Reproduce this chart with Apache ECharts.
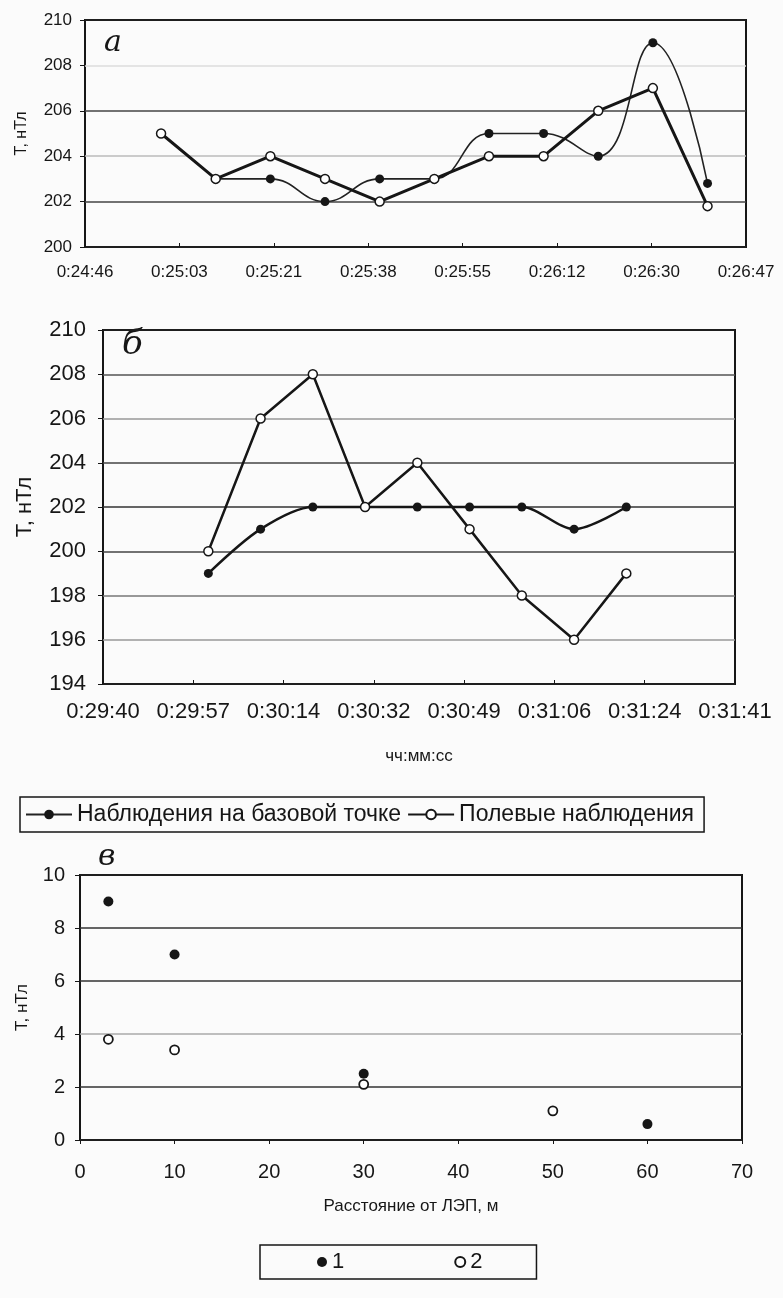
<!DOCTYPE html>
<html lang="ru">
<head>
<meta charset="utf-8">
<title>Т, нТл</title>
<script src="https://cdn.jsdelivr.net/npm/echarts@6/dist/echarts.min.js"></script>
<style>
    html, body { margin: 0; padding: 0; background: #fbfbfb; }
    #main { width: 783px; height: 1298px; }
</style>
</head>
<body>
<div id="main"></div>
<script>
    // а: время наблюдений (чч:мм:сс) и значения, нТл
    var timesA = ['0:25:00', '0:25:10', '0:25:20', '0:25:30', '0:25:40', '0:25:50',
                  '0:26:00', '0:26:10', '0:26:20', '0:26:30', '0:26:40'];
    var baseA = [null, 203, 203, 202, 203, 203, 205, 205, 204, 209, 202.8];
    var fieldA = [205, 203, 204, 203, 202, 203, 204, 204, 206, 207, 201.8];

    // б
    var timesB = ['0:30:00', '0:30:10', '0:30:20', '0:30:30', '0:30:40',
                  '0:30:50', '0:31:00', '0:31:10', '0:31:20'];
    var baseB = [199, 201, 202, 202, 202, 202, 202, 201, 202];
    var fieldB = [200, 206, 208, 202, 204, 201, 198, 196, 199];

    // в: расстояние от ЛЭП, м
    var distBase = [3, 10, 30, 60];
    var valBase = [9, 7, 2.5, 0.6];
    var distField = [3, 10, 30, 50];
    var valField = [3.8, 3.4, 2.1, 1.1];

    var seriesNames = ['Наблюдения на базовой точке', 'Полевые наблюдения'];
    var scatterNames = ['1', '2'];

    var FONT = '"Liberation Sans", Arial, sans-serif';
    var INK = '#161616';

    // ось времени в единицах 1e-4 суток (8.64 с), как в Excel
    function toUnit(t) {
        var p = t.split(':');
        return (+p[0] * 3600 + +p[1] * 60 + +p[2]) / 8.64;
    }
    function pad(n) { return n < 10 ? '0' + n : '' + n; }
    function timeLabel(v) {
        var s = Math.round(v * 8.64);
        return Math.floor(s / 3600) + ':' + pad(Math.floor(s % 3600 / 60)) + ':' + pad(s % 60);
    }
    function pairs(xs, ys, conv) {
        return xs.map(function (x, i) { return [conv ? conv(x) : x, ys[i]]; })
                 .filter(function (p) { return p[1] != null; });
    }

    function gridBox(left, top, width, height) {
        return {left: left, top: top, width: width, height: height, show: true,
                borderColor: INK, borderWidth: 2, backgroundColor: 'transparent'};
    }

    var dom = document.getElementById('main');
    var myChart = echarts.init(dom, null, {renderer: 'canvas'});

    var option = {
        backgroundColor: '#fbfbfb',
        animation: false,
        grid: [
            gridBox(85, 20, 661, 227),
            gridBox(103, 330, 632, 354),
            gridBox(80, 875, 662, 265)
        ],
        xAxis: [
            {
                type: 'value', gridIndex: 0, min: 172, max: 186, interval: 2,
                axisLine: {show: false},
                axisTick: {show: true, inside: true, length: 4, lineStyle: {color: INK}},
                splitLine: {show: false},
                axisLabel: {formatter: timeLabel, margin: 17, fontFamily: FONT, fontSize: 17, color: INK}
            },
            {
                type: 'value', gridIndex: 1, min: 206, max: 220, interval: 2,
                axisLine: {show: false},
                axisTick: {show: true, inside: true, length: 4, lineStyle: {color: INK}},
                splitLine: {show: false},
                axisLabel: {formatter: timeLabel, margin: 17, fontFamily: FONT, fontSize: 22, color: INK},
                name: 'чч:мм:сс', nameLocation: 'middle', nameGap: 64,
                nameTextStyle: {fontFamily: FONT, fontSize: 17, color: INK}
            },
            {
                type: 'value', gridIndex: 2, min: 0, max: 70, interval: 10,
                axisLine: {show: false},
                axisTick: {show: true, length: 4, lineStyle: {color: INK}},
                splitLine: {show: false},
                axisLabel: {margin: 22, fontFamily: FONT, fontSize: 20, color: INK},
                name: 'Расстояние от ЛЭП, м', nameLocation: 'middle', nameGap: 58,
                nameTextStyle: {fontFamily: FONT, fontSize: 17, color: INK}
            }
        ],
        yAxis: [
            {
                type: 'value', gridIndex: 0, min: 200, max: 210, interval: 2,
                axisLine: {show: false},
                axisTick: {show: true, length: 5, lineStyle: {color: INK}},
                splitLine: {show: true, lineStyle: {width: 1.5,
                    color: ['#222', '#444', '#bbb', '#444', '#ddd', '#222']}},
                axisLabel: {margin: 13, fontFamily: FONT, fontSize: 17, color: INK},
                name: 'Т, нТл', nameLocation: 'middle', nameRotate: 90, nameGap: 55,
                nameTextStyle: {fontFamily: FONT, fontSize: 16, color: INK}
            },
            {
                type: 'value', gridIndex: 1, min: 194, max: 210, interval: 2,
                axisLine: {show: false},
                axisTick: {show: true, length: 5, lineStyle: {color: INK}},
                splitLine: {show: true, lineStyle: {width: 1.5,
                    color: ['#222', '#999', '#777', '#444', '#333', '#444', '#999', '#555', '#222']}},
                axisLabel: {margin: 17, fontFamily: FONT, fontSize: 22, color: INK},
                name: 'Т, нТл', nameLocation: 'middle', nameRotate: 90, nameGap: 67,
                nameTextStyle: {fontFamily: FONT, fontSize: 22, color: INK}
            },
            {
                type: 'value', gridIndex: 2, min: 0, max: 10, interval: 2,
                axisLine: {show: false},
                axisTick: {show: true, length: 5, lineStyle: {color: INK}},
                splitLine: {show: true, lineStyle: {width: 1.5,
                    color: ['#222', '#333', '#aaa', '#333', '#333', '#222']}},
                axisLabel: {margin: 15, fontFamily: FONT, fontSize: 20, color: INK},
                name: 'Т, нТл', nameLocation: 'middle', nameRotate: 90, nameGap: 49,
                nameTextStyle: {fontFamily: FONT, fontSize: 17, color: INK}
            }
        ],
        legend: [
            {
                data: seriesNames,
                left: 20, top: 797,
                padding: [6, 10, 6, 5],
                itemWidth: 46, itemHeight: 12, itemGap: 6,
                borderColor: INK, borderWidth: 1.5,
                textStyle: {fontFamily: FONT, fontSize: 23, color: INK}
            },
            {
                data: scatterNames,
                left: 260, top: 1245,
                padding: [6, 54, 6, 57],
                itemWidth: 10, itemHeight: 10, itemGap: 110,
                borderColor: INK, borderWidth: 1.5,
                textStyle: {fontFamily: FONT, fontSize: 22, color: INK}
            }
        ],
        graphic: [
            {type: 'text', left: 104, top: 28, style: {text: 'а', fontFamily: 'DejaVu Serif', fontStyle: 'italic', fontSize: 30, fill: INK}},
            {type: 'text', left: 122, top: 328, style: {text: 'б', fontFamily: 'DejaVu Serif', fontStyle: 'italic', fontSize: 34, fill: INK}},
            {type: 'text', left: 98, top: 842, style: {text: 'в', fontFamily: 'DejaVu Serif', fontStyle: 'italic', fontSize: 30, fill: INK}}
        ],
        series: [
            {
                name: seriesNames[0], type: 'line', xAxisIndex: 0, yAxisIndex: 0,
                data: pairs(timesA, baseA, toUnit), smooth: 0.45,
                symbol: 'circle', symbolSize: 9,
                itemStyle: {color: INK},
                lineStyle: {color: '#222', width: 1.6}
            },
            {
                name: seriesNames[1], type: 'line', xAxisIndex: 0, yAxisIndex: 0,
                data: pairs(timesA, fieldA, toUnit),
                symbol: 'circle', symbolSize: 9,
                itemStyle: {color: '#fff', borderColor: INK, borderWidth: 1.5},
                lineStyle: {color: INK, width: 3}
            },
            {
                name: seriesNames[0], type: 'line', xAxisIndex: 1, yAxisIndex: 1,
                data: pairs(timesB, baseB, toUnit), smooth: 0.3,
                symbol: 'circle', symbolSize: 9,
                itemStyle: {color: INK},
                lineStyle: {color: INK, width: 2.5}
            },
            {
                name: seriesNames[1], type: 'line', xAxisIndex: 1, yAxisIndex: 1,
                data: pairs(timesB, fieldB, toUnit),
                symbol: 'circle', symbolSize: 9,
                itemStyle: {color: '#fff', borderColor: INK, borderWidth: 1.5},
                lineStyle: {color: INK, width: 2.5}
            },
            {
                name: scatterNames[0], type: 'scatter', xAxisIndex: 2, yAxisIndex: 2,
                data: pairs(distBase, valBase), symbol: 'circle', symbolSize: 10,
                itemStyle: {color: INK, opacity: 1}
            },
            {
                name: scatterNames[1], type: 'scatter', xAxisIndex: 2, yAxisIndex: 2,
                data: pairs(distField, valField), symbol: 'circle', symbolSize: 9,
                itemStyle: {color: '#fff', borderColor: INK, borderWidth: 1.8, opacity: 1}
            }
        ]
    };

    myChart.setOption(option);
</script>
</body>
</html>
